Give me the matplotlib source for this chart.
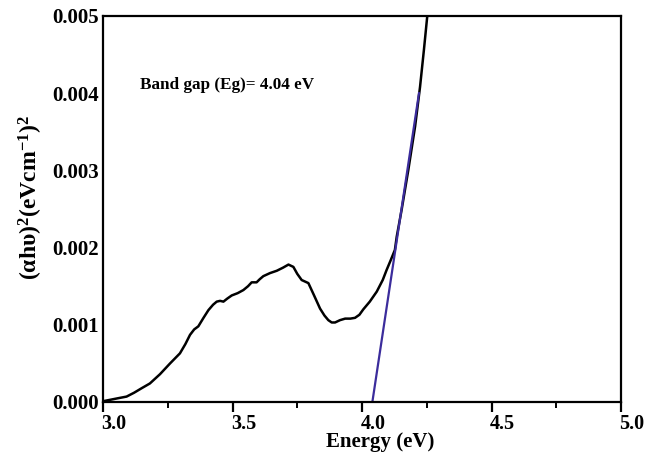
import numpy as np
import matplotlib.pyplot as plt
import matplotlib.transforms as mtransforms
from matplotlib.ticker import MultipleLocator

plt.rcParams['font.family'] = ['Liberation Serif', 'DejaVu Serif']
plt.rcParams['font.weight'] = 'bold'
plt.rcParams['mathtext.fontset'] = 'custom'
plt.rcParams['mathtext.rm'] = 'Liberation Serif:bold'
plt.rcParams['mathtext.bf'] = 'Liberation Serif:bold'
plt.rcParams['mathtext.it'] = 'Liberation Serif:bold'
plt.rcParams['mathtext.default'] = 'bf'

# Tauc plot data
energy = [3.000, 3.030, 3.060, 3.091, 3.120, 3.150, 3.181, 3.220, 3.259, 3.297,
          3.318, 3.336, 3.352, 3.368, 3.388, 3.407, 3.425, 3.439, 3.452, 3.465,
          3.480, 3.497, 3.520, 3.542, 3.560, 3.574, 3.593, 3.605, 3.619, 3.645,
          3.671, 3.695, 3.716, 3.735, 3.750, 3.767, 3.793, 3.815, 3.838, 3.855,
          3.870, 3.883, 3.896, 3.915, 3.935, 3.955, 3.973, 3.990, 4.005, 4.030,
          4.057, 4.080, 4.095, 4.110, 4.127, 4.134, 4.153, 4.179, 4.205, 4.224,
          4.239, 4.252]
absorb = [0.00001, 0.00003, 0.00005, 0.00007, 0.00012, 0.00018, 0.00024, 0.00036, 0.00050, 0.00063,
          0.00075, 0.00087, 0.00094, 0.00098, 0.00109, 0.00119, 0.00126, 0.00130, 0.00131, 0.00130,
          0.00134, 0.00138, 0.00141, 0.00145, 0.00150, 0.00155, 0.00155, 0.00159, 0.00163, 0.00167,
          0.00170, 0.00174, 0.00178, 0.00175, 0.00166, 0.00158, 0.00154, 0.00138, 0.00121, 0.00112,
          0.00106, 0.00103, 0.00103, 0.00106, 0.00108, 0.00108, 0.00109, 0.00113, 0.00120, 0.00130,
          0.00143, 0.00158, 0.00171, 0.00183, 0.00197, 0.00214, 0.00249, 0.00301, 0.00357, 0.00408,
          0.00456, 0.00500]

# Linear extrapolation giving the band gap
fit_x = [4.04, 4.22]
fit_y = [0.0, 0.0040]

band_gap = 4.04

fig = plt.figure(figsize=(6.45, 4.53), dpi=100)
ax = fig.add_axes([0.1597, 0.1126, 0.8031, 0.8521])

ax.plot(energy, absorb, color='black', lw=1.8)
ax.plot(fit_x, fit_y, color='#3b2c9c', lw=1.6)

ax.set_xlim(3.0, 5.0)
ax.set_ylim(0.0, 0.005)
ax.xaxis.set_major_locator(MultipleLocator(0.5))
ax.xaxis.set_minor_locator(MultipleLocator(0.25))
ax.yaxis.set_major_locator(MultipleLocator(0.001))
ax.xaxis.set_major_formatter(plt.FormatStrFormatter('%.1f'))
ax.yaxis.set_major_formatter(plt.FormatStrFormatter('%.3f'))

for s in ax.spines.values():
    s.set_linewidth(1.6)

ax.tick_params(axis='x', which='major', direction='out', length=7, width=1.6,
               labelsize=14.5, pad=1.5)
ax.tick_params(axis='x', which='minor', direction='out', length=4, width=1.4)
ax.tick_params(axis='y', which='both', length=0, labelsize=15, pad=3)

# x tick labels sit a little to the right of their ticks in the reference
shift = mtransforms.ScaledTranslation(11 / 100, 0, fig.dpi_scale_trans)
for lbl in ax.get_xticklabels():
    lbl.set_transform(lbl.get_transform() + shift)
    lbl.set_fontweight('bold')
for lbl in ax.get_yticklabels():
    lbl.set_fontweight('bold')

ax.set_xlabel('Energy (eV)', fontsize=15, fontweight='bold')
ax.xaxis.set_label_coords(0.535, -0.078)
ax.set_ylabel(r'(αhυ)$^{2}$(eVcm$^{-1}$)$^{2}$', fontsize=17, fontweight='bold')
ax.yaxis.set_label_coords(-0.112, 0.53)

ax.text(3.143, 0.0041, 'Band gap (Eg)= %.2f eV' % band_gap, fontsize=12.3,
        fontweight='bold', va='center')

fig.savefig('out.png', dpi=100)
